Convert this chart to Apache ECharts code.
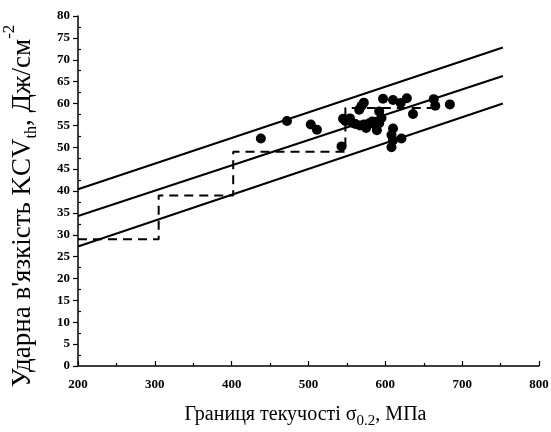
<!DOCTYPE html>
<html>
<head>
<meta charset="utf-8">
<script src="https://cdn.jsdelivr.net/npm/echarts@6/dist/echarts.min.js"></script>
<style>
  html, body { margin: 0; padding: 0; background: #fff; }
  #chart { width: 551px; height: 432px; }
</style>
</head>
<body>
<div id="chart"></div>
<script>
// Yield strength (MPa) vs. impact toughness KCV_th (J/cm^2)
const yieldStrength = [438, 472, 503, 511, 543, 545, 548, 554, 557, 561, 566, 569, 572, 567, 572, 575,
  579, 583, 587, 589, 592, 595, 592, 597, 610, 620, 628, 610, 608, 610, 608, 621, 636, 663, 665, 684];
const toughness = [52, 56, 55.2, 54, 50.2, 56.5, 56, 56.6, 55.6, 55.3, 58.6, 59.5, 60.2, 55, 55.2, 54.4,
  55.5, 55.9, 55.1, 53.9, 55.5, 56.7, 58.2, 61.1, 60.8, 60.1, 61.2, 54.3, 52.8, 51.6, 50, 52, 57.6, 61, 59.5, 59.8];

// Upper bound, trend and lower bound lines (end points)
const upperLine = [[200, 40.4], [753, 72.8]];
const trendLine = [[200, 34.3], [753, 66.3]];
const lowerLine = [[200, 27.3], [753, 60.0]];

// Stepped level of the dashed line
const stepX = [200, 305, 305, 402, 402, 548, 548, 665];
const stepY = [29, 29, 39, 39, 49, 49, 59, 59];

const xTicks = [200, 800, 100];
const yTicks = [0, 80, 5];

const points = yieldStrength.map((x, i) => [x, toughness[i]]);
const steps = stepX.map((x, i) => [x, stepY[i]]);

const serif = '"Liberation Serif", "Times New Roman", serif';
const chart = echarts.init(document.getElementById('chart'));

const solid = (data) => ({
  type: 'line', data, showSymbol: false, symbol: 'none', silent: true,
  lineStyle: { color: '#000', width: 2 }
});

chart.setOption({
  animation: false,
  grid: { left: 78, right: 12, top: 16, bottom: 66, containLabel: false, outerBoundsMode: 'none' },
  xAxis: {
    type: 'value', min: xTicks[0], max: xTicks[1], interval: xTicks[2],
    axisLine: { lineStyle: { color: '#000', width: 1.5 } },
    axisTick: { inside: true, length: 5, lineStyle: { color: '#000', width: 1.2 } },
    minorTick: { show: true, splitNumber: 2, length: 3, lineStyle: { color: '#000', width: 1.2 } },
    splitLine: { show: false },
    axisLabel: { color: '#000', fontFamily: serif, fontWeight: 'bold', fontSize: 13, margin: 12 },
    name: '{t|Границя текучості σ}{s|0.2}{t|, МПа}',
    nameLocation: 'middle', nameGap: 35,
    nameTextStyle: {
      padding: [0, 6, 0, 0],
      rich: {
        t: { fontFamily: serif, fontSize: 20, color: '#000', lineHeight: 24, verticalAlign: 'bottom' },
        s: { fontFamily: serif, fontSize: 15, color: '#000', lineHeight: 24, verticalAlign: 'bottom', padding: [0, 0, -4, 0] }
      }
    }
  },
  yAxis: {
    type: 'value', min: yTicks[0], max: yTicks[1], interval: yTicks[2],
    axisLine: { show: true, lineStyle: { color: '#000', width: 1.5 } },
    axisTick: { show: true, inside: false, length: 5, lineStyle: { color: '#000', width: 1.2 } },
    minorTick: { show: true, splitNumber: 2, length: -3, lineStyle: { color: '#000', width: 1.2 } },
    splitLine: { show: false },
    axisLabel: { color: '#000', fontFamily: serif, fontWeight: 'bold', fontSize: 13, margin: 8 },
    name: '{t|Ударна в\'язкість KCV}{s|th}{t|, Дж/см}{p|-2}',
    nameLocation: 'middle', nameGap: 42,
    nameTextStyle: {
      padding: [0, 30, 0, 0],
      rich: {
        t: { fontFamily: serif, fontSize: 27, color: '#000', lineHeight: 32, verticalAlign: 'bottom' },
        s: { fontFamily: serif, fontSize: 16, color: '#000', lineHeight: 32, verticalAlign: 'bottom', padding: [0, 0, -4, 0] },
        p: { fontFamily: serif, fontSize: 17, color: '#000', lineHeight: 32, verticalAlign: 'top', padding: [-3, 0, 0, 0] }
      }
    }
  },
  series: [
    solid(upperLine),
    solid(trendLine),
    solid(lowerLine),
    {
      type: 'line', data: steps, showSymbol: false, symbol: 'none', silent: true,
      lineStyle: { color: '#000', width: 2, type: [9, 6] }
    },
    {
      type: 'scatter', data: points, symbol: 'circle', symbolSize: 10,
      itemStyle: { color: '#000', opacity: 1 }
    }
  ]
});
</script>
</body>
</html>
